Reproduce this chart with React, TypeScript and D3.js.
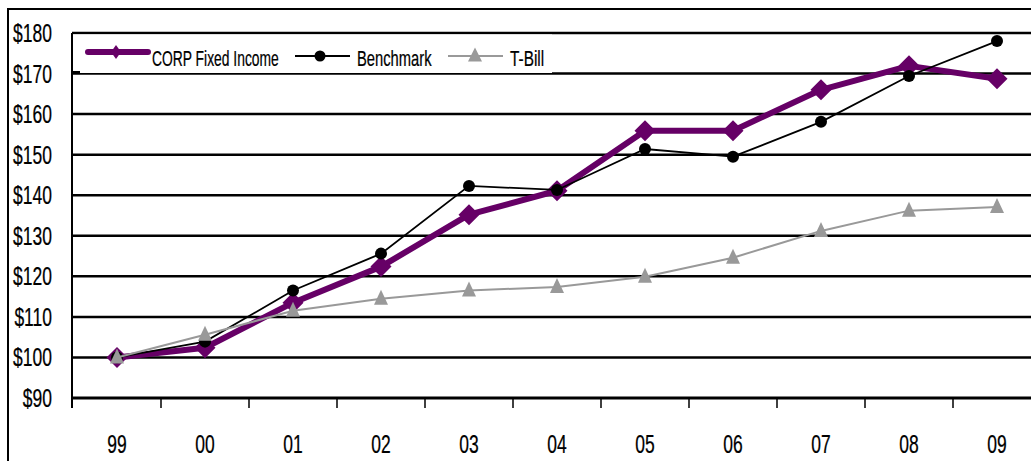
import React from "react";
import * as d3 from "d3";

// Years shown along the bottom axis
const years = ["99", "00", "01", "02", "03", "04", "05", "06", "07", "08", "09"];

// Growth of $100, by series
const corpFixedIncome = [100, 102.4, 113.5, 122.4, 135.2, 141.1, 155.9, 155.9, 166, 171.9, 168.7];
const benchmark = [100, 103.9, 116.5, 125.6, 142.3, 141.3, 151.4, 149.5, 158.1, 169.4, 178];
const tBill = [100, 105.6, 111.5, 114.5, 116.5, 117.4, 119.9, 124.6, 131.2, 136.2, 137.1];

// Value axis ticks
const yTicks = [90, 100, 110, 120, 130, 140, 150, 160, 170, 180];

const W = 1031;
const H = 461;
const FONT = "'Liberation Sans', Arial, sans-serif";
const PURPLE = "#660066";
const GRAY = "#999999";

const plot = { left: 72, right: 1041, top: 33, bottom: 398 };

// Narrow text: a regular sans squeezed horizontally around its anchor point
function NarrowText({
  x,
  y,
  size,
  squeeze,
  anchor = "start",
  children,
}: {
  x: number;
  y: number;
  size: number;
  squeeze: number;
  anchor?: "start" | "middle" | "end";
  children: React.ReactNode;
}) {
  return (
    <g transform={`translate(${x},${y}) scale(${squeeze},1)`}>
      <text
        x={0}
        y={0}
        textAnchor={anchor}
        fontFamily={FONT}
        fontSize={size}
        fill="#000"
        stroke="#000"
        strokeWidth={0.25}
      >
        {children}
      </text>
    </g>
  );
}

export default function App() {
  const x = d3
    .scaleBand<string>()
    .domain(years)
    .range([plot.left + 1, plot.right])
    .padding(0);
  const y = d3.scaleLinear().domain([90, 180]).range([plot.bottom, plot.top]);
  const cx = (d: string) => (x(d) ?? 0) + x.bandwidth() / 2;

  const line = d3
    .line<number>()
    .x((_, i) => cx(years[i]))
    .y((v) => y(v));

  const diamond = (px: number, py: number, r: number) =>
    `M${px},${py - r}L${px + r},${py}L${px},${py + r}L${px - r},${py}Z`;
  const triangle = (px: number, py: number, w: number, h: number) =>
    `M${px},${py - h * 0.6}L${px + w / 2},${py + h * 0.4}L${px - w / 2},${py + h * 0.4}Z`;

  // Tick marks sit on the boundaries between year bands
  const boundaries = years.slice(1).map((d) => x(d) ?? 0);

  return (
    <svg
      width={W}
      height={H}
      style={{ position: "absolute", left: 0, top: 0, display: "block", background: "#fff" }}
    >
      {/* outer frame */}
      <rect x={8} y={9} width={1040} height={470} fill="#fff" stroke="#000" strokeWidth={2} />

      {/* horizontal gridlines */}
      {yTicks
        .filter((t) => t !== 90)
        .map((t) => (
          <line
            key={t}
            x1={plot.left}
            x2={plot.right}
            y1={y(t)}
            y2={y(t)}
            stroke="#000"
            strokeWidth={2.5}
          />
        ))}

      {/* category axis */}
      <line x1={plot.left} x2={plot.right} y1={plot.bottom} y2={plot.bottom} stroke="#000" strokeWidth={3} />
      {boundaries.map((bx, i) => (
        <line key={i} x1={bx} x2={bx} y1={plot.bottom} y2={plot.bottom + 10} stroke="#000" strokeWidth={1.5} />
      ))}
      <line x1={plot.left} x2={plot.left} y1={plot.top} y2={plot.bottom + 10} stroke="#000" strokeWidth={2} />

      {/* value labels */}
      {yTicks.map((t) => (
        <NarrowText key={t} x={52} y={y(t) + 9} size={25} squeeze={0.7} anchor="end">
          {`$${t}`}
        </NarrowText>
      ))}

      {/* year labels */}
      {years.map((d) => (
        <NarrowText key={d} x={cx(d)} y={453} size={25} squeeze={0.7} anchor="middle">
          {d}
        </NarrowText>
      ))}

      {/* CORP Fixed Income */}
      <path
        d={line(corpFixedIncome) ?? ""}
        fill="none"
        stroke={PURPLE}
        strokeWidth={6}
        strokeLinejoin="round"
      />
      {corpFixedIncome.map((v, i) => (
        <path key={i} d={diamond(cx(years[i]), y(v), 10.5)} fill={PURPLE} />
      ))}

      {/* Benchmark */}
      <path d={line(benchmark) ?? ""} fill="none" stroke="#000" strokeWidth={1.8} />
      {benchmark.map((v, i) => (
        <circle key={i} cx={cx(years[i])} cy={y(v)} r={6} fill="#000" />
      ))}

      {/* T-Bill */}
      <path d={line(tBill) ?? ""} fill="none" stroke={GRAY} strokeWidth={2} />
      {tBill.map((v, i) => (
        <path key={i} d={triangle(cx(years[i]), y(v), 14, 15)} fill={GRAY} />
      ))}

      {/* legend */}
      <g>
        <rect x={plot.left + 1} y={plot.top + 1.5} width={479} height={38.5} fill="#fff" />
        <line x1={plot.left} x2={552} y1={73.5} y2={73.5} stroke="#000" strokeWidth={1} />
        <line x1={plot.left} x2={80} y1={72} y2={72} stroke="#000" strokeWidth={2} />

        <line x1={88} x2={148} y1={52} y2={52} stroke={PURPLE} strokeWidth={6} strokeLinecap="round" />
        <path d={`M116,45L121,52L116,59L111,52Z`} fill={PURPLE} />
        <NarrowText x={152} y={65.5} size={22} squeeze={0.63}>
          CORP Fixed Income
        </NarrowText>

        <line x1={295} x2={350} y1={56} y2={56} stroke="#000" strokeWidth={1.8} />
        <circle cx={320} cy={56} r={5.5} fill="#000" />
        <NarrowText x={357} y={65.5} size={22} squeeze={0.67}>
          Benchmark
        </NarrowText>

        <line x1={448} x2={503} y1={56} y2={56} stroke={GRAY} strokeWidth={2} />
        <path d={triangle(475, 56, 14, 14)} fill={GRAY} />
        <NarrowText x={510} y={65.5} size={22} squeeze={0.7}>
          T-Bill
        </NarrowText>
      </g>
    </svg>
  );
}
